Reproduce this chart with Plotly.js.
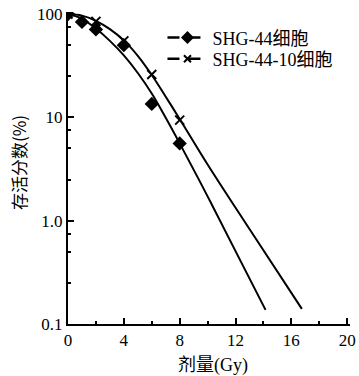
<!DOCTYPE html>
<html>
<head>
<meta charset="utf-8">
<script src="https://cdn.plot.ly/plotly-3.0.1.min.js"></script>
<style>html,body{margin:0;padding:0;background:#fff;}#chart{width:359px;height:376px;}</style>
</head>
<body>
<div id="chart"></div>
<script>
// Measured points (dose in Gy, survival fraction in %)
const doseA = [0, 1, 2, 4, 6, 8];
const survA = [100, 84, 71, 50, 13.5, 5.6];
const doseB = [0, 2, 4, 6, 8];
const survB = [100, 85, 55, 26, 9.4];

// Fitted curves
const curveDoseA = [0, 1, 2, 3, 4, 5, 6, 7, 8, 10, 12, 14.15];
const curveSurvA = [100, 90, 72.4, 55, 39.8, 26.9, 17, 9.9, 5.6, 1.72, 0.507, 0.137];
const curveDoseB = [0, 1, 2, 3, 4, 5, 6, 7, 8, 10, 13, 16.75];
const curveSurvB = [100, 96.6, 86.1, 71.6, 55.6, 39.4, 25.7, 15.85, 9.66, 3.5, 0.83, 0.14];

const nameA = 'SHG-44细胞';
const nameB = 'SHG-44-10细胞';

const xTickVals = [0, 4, 8, 12, 16, 20];
const xTickText = ['0', '4', '8', '12', '16', '20'];
const xMinorVals = [2, 6, 10, 14, 18];
const yTickVals = [0.1, 1, 10, 100];
const yTickText = ['0.1', '1.0', '10', '100'];
const yMinorVals = [0.25, 0.5, 0.75, 2.5, 5, 7.5, 25, 50, 75];

const serif = 'Liberation Serif, Times New Roman, serif';
const cjk = 'Liberation Serif, Noto Sans CJK SC, serif';

const legendStyle = {xanchor: 'left', yanchor: 'middle', bgcolor: 'rgba(0,0,0,0)', font: {family: cjk, size: 18, color: '#000'}, itemwidth: 40};

const traces = [
  {x: curveDoseA, y: curveSurvA, mode: 'lines', line: {color: '#000', width: 2, shape: 'spline', smoothing: 1}, showlegend: false, hoverinfo: 'skip'},
  {x: curveDoseB, y: curveSurvB, mode: 'lines', line: {color: '#000', width: 2, shape: 'spline', smoothing: 1}, showlegend: false, hoverinfo: 'skip'},
  {x: doseA, y: survA, mode: 'markers', marker: {symbol: 'diamond', size: 11, color: '#000'}, showlegend: false},
  {x: doseB, y: survB, mode: 'markers', marker: {symbol: 'x-thin', size: 9, color: '#000', line: {color: '#000', width: 2}}, showlegend: false},
  {x: [null], y: [null], name: nameA, legend: 'legend', mode: 'lines+markers', line: {color: '#000', width: 2.5, dash: '12px,9px'}, marker: {symbol: 'diamond', size: 10, color: '#000'}},
  {x: [null], y: [null], name: nameB, legend: 'legend2', mode: 'lines+markers', line: {color: '#000', width: 2.5, dash: '12px,9px'}, marker: {symbol: 'x-thin', size: 7, color: '#000', line: {color: '#000', width: 2}}}
];

const layout = {
  width: 359, height: 376,
  margin: {l: 68, r: 9, t: 12, b: 52, pad: 0},
  paper_bgcolor: '#fff', plot_bgcolor: '#fff',
  showlegend: true,
  legend: Object.assign({x: 0.335, y: 0.917}, legendStyle),
  legend2: Object.assign({x: 0.335, y: 0.849}, legendStyle),
  xaxis: {
    type: 'linear', range: [0, 20.2],
    showline: true, linecolor: '#000', linewidth: 2, mirror: false,
    showgrid: false, zeroline: false,
    ticks: 'inside', ticklen: 6, tickwidth: 2, tickcolor: '#000',
    tickmode: 'array', tickvals: xTickVals, ticktext: xTickText,
    minor: {tickmode: 'array', tickvals: xMinorVals, ticks: 'inside', ticklen: 3, tickwidth: 2, tickcolor: '#000', showgrid: false},
    tickfont: {family: serif, size: 17, color: '#000'},
    fixedrange: true
  },
  yaxis: {
    type: 'log', range: [-1, 2.02],
    showline: true, linecolor: '#000', linewidth: 2,
    showgrid: false, zeroline: false,
    ticks: 'inside', ticklen: 6, tickwidth: 2, tickcolor: '#000',
    tickmode: 'array', tickvals: yTickVals, ticktext: yTickText,
    minor: {tickmode: 'array', tickvals: yMinorVals, ticks: 'inside', ticklen: 3, tickwidth: 2, tickcolor: '#000', showgrid: false},
    tickfont: {family: serif, size: 17, color: '#000'},
    ticklabelstandoff: 0,
    fixedrange: true
  },
  annotations: [
    {text: '存活分数(%)', xref: 'paper', yref: 'paper', x: -0.177, y: 0.516, textangle: -90, showarrow: false, xanchor: 'center', yanchor: 'middle', font: {family: 'Noto Sans CJK SC, Liberation Serif', size: 17, color: '#000'}},
    {text: '剂量(Gy)', xref: 'paper', yref: 'paper', x: 0.514, y: -0.133, showarrow: false, xanchor: 'center', yanchor: 'middle', font: {family: cjk, size: 18, color: '#000'}}
  ]
};

Plotly.newPlot('chart', traces, layout, {displayModeBar: false, staticPlot: true});
</script>
</body>
</html>
